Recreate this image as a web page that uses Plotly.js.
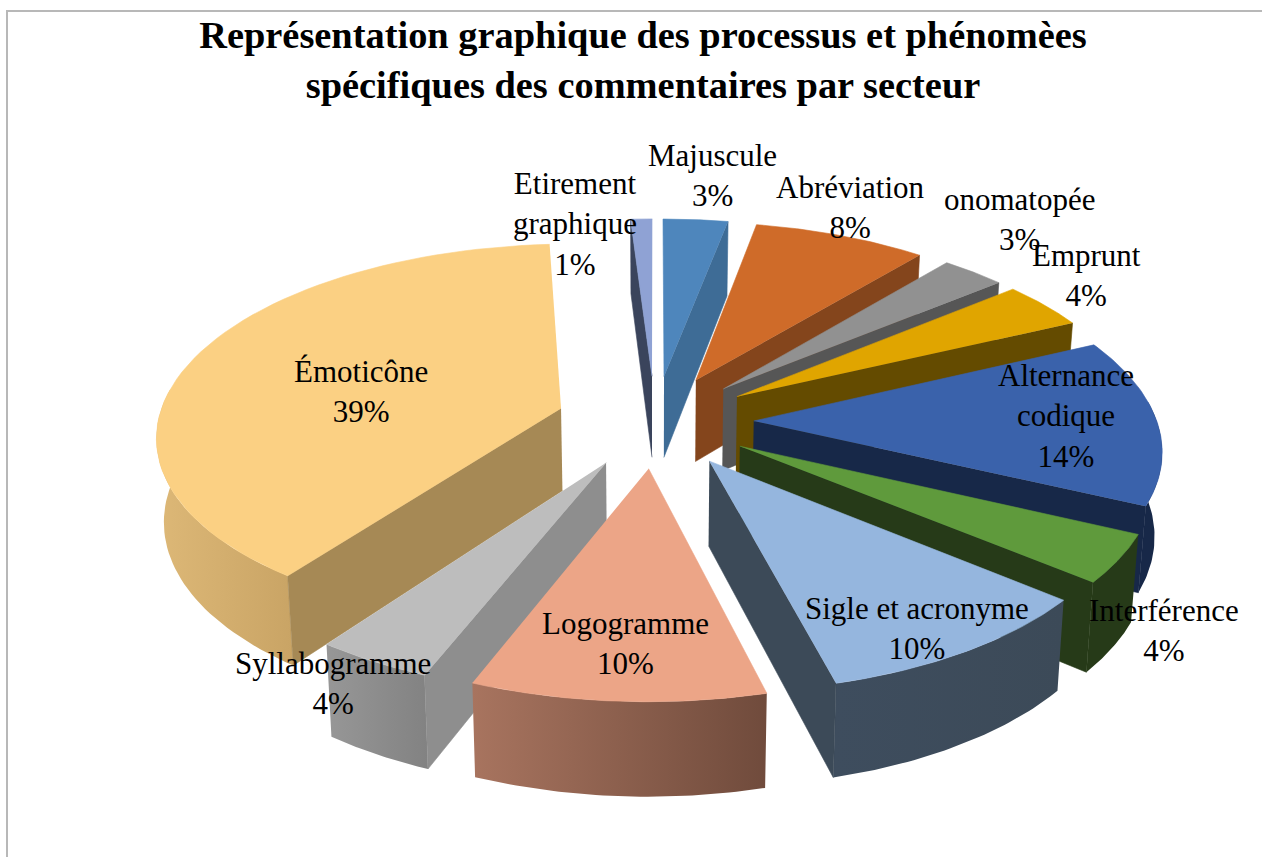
<!DOCTYPE html>
<html lang="fr">
<head>
<meta charset="utf-8">
<script src="https://cdn.plot.ly/plotly-3.0.1.min.js"></script>
<style>html,body{margin:0;padding:0;background:#fff;overflow:hidden}#chart{width:1262px;height:857px}</style>
</head>
<body>
<div id="chart"></div>
<script>
// ---- data (percent of commentaries) ----
const categories = ["Majuscule","Abréviation","onomatopée","Emprunt","Alternance<br>codique","Interférence","Sigle et acronyme","Logogramme","Syllabogramme","Émoticône","Etirement<br>graphique"];
const values = [3,8,3,4,14,4,10,10,4,39,1];

// ---- styles per slice ----
const topColors  = ["#4E86BC","#CF6B29","#919191","#E0A500","#3A62AB","#5F9A3C","#95B6DE","#ECA587","#BDBDBD","#FBD083","#8FA2D4"];
const cutColors  = ["#3E6C96","#84451C","#565656","#644B00","#172848","#263A18","#3C4A58","#6E4A3A","#8E8E8E","#A68955","#3A445C"];
const wallLeft   = ["#3E6C96","#84451C","#565656","#644B00","#172848","#263A18","#3E4D5E","#A8745F","#979797","#DDB877","#3A445C"];
const wallRight  = ["#3E6C96","#84451C","#565656","#644B00","#172848","#263A18","#3C4A58","#704B3C","#828282","#C9A465","#3A445C"];
const drawOrder  = [9,10,0,1,2,3,4,5,8,6,7];

// ---- label placement ----
const labelX = [712,850,1020,1086,1066,1164,917,625,333,361,575];
const labelY = [175,207,219,275,416,630,628,643,683,391,224];

// ---- projection of the tilted, exploded pie onto the page ----
const CX = 655, CY = 421, RX = 403, RY = 188.8, PERSP = 0.131, EXPLODE = 0.245, DEPTH = 83, BOTTOM = 0.985;

function project(u, v, lower) {
  const s = 1 / (1 - PERSP * v);
  let x = RX * u * s, y = RY * v * s;
  if (lower) { x *= BOTTOM; y = y * BOTTOM + DEPTH * s; }
  return [CX + x, CY + y];
}
function rimPoint(deg, midDeg, r, lower) {
  const a = deg * Math.PI / 180, m = midDeg * Math.PI / 180;
  return project(r * Math.sin(a) + EXPLODE * Math.sin(m), -r * Math.cos(a) - EXPLODE * Math.cos(m), lower);
}
function poly(points, color, grad) {
  const t = {
    type: "scatter", mode: "lines", hoverinfo: "skip", showlegend: false,
    x: points.map(p => p[0]), y: points.map(p => p[1]),
    fill: "toself", line: {width: 0.6, color: color}, fillcolor: color
  };
  if (grad) {
    t.fillgradient = {type: "horizontal", colorscale: [[0, grad[0]], [1, grad[1]]]};
    t.line = {width: 0};
  }
  return t;
}

const total = values.reduce((a, b) => a + b, 0);
const starts = [], ends = [];
let running = 0;
values.forEach(v => {
  starts.push(running / total * 360);
  running += v;
  ends.push(running / total * 360);
});

const traces = [];
drawOrder.forEach(i => {
  const a0 = starts[i], a1 = ends[i], mid = (a0 + a1) / 2;
  // outer wall: only the part turned toward the viewer
  const w0 = Math.max(a0, 84), w1 = Math.min(a1, 276);
  if (w1 > w0) {
    const up = [], low = [];
    for (let k = 0; k <= 40; k++) {
      const d = w0 + (w1 - w0) * k / 40;
      up.push(rimPoint(d, mid, 1, false));
      low.push(rimPoint(d, mid, 1, true));
    }
    traces.push(poly(up.concat(low.reverse()), wallLeft[i], [wallLeft[i], wallRight[i]]));
  }
  // cut faces
  const tipTop = rimPoint(0, mid, 0, false), tipLow = rimPoint(0, mid, 0, true);
  if (Math.sin(a0 * Math.PI / 180) < -1e-6) {
    traces.push(poly([tipTop, rimPoint(a0, mid, 1, false), rimPoint(a0, mid, 1, true), tipLow], cutColors[i]));
  }
  if (Math.sin(a1 * Math.PI / 180) > 1e-6) {
    traces.push(poly([tipTop, rimPoint(a1, mid, 1, false), rimPoint(a1, mid, 1, true), tipLow], cutColors[i]));
  }
  // top face
  const pts = [tipTop];
  for (let k = 0; k <= 60; k++) pts.push(rimPoint(a0 + (a1 - a0) * k / 60, mid, 1, false));
  traces.push(poly(pts, topColors[i]));
});

const annotations = categories.map((c, i) => ({
  x: labelX[i], y: labelY[i], xref: "x", yref: "y",
  text: c + "<br>" + values[i] + "%", showarrow: false,
  xanchor: "center", yanchor: "middle", align: "center",
  font: {family: "'Liberation Serif', serif", size: 31, color: "#000"}
}));

const layout = {
  width: 1262, height: 857,
  margin: {l: 0, r: 0, t: 0, b: 0},
  paper_bgcolor: "#fff", plot_bgcolor: "#fff",
  showlegend: false, hovermode: false,
  title: {
    text: "Représentation graphique des processus et phénomèes<br>spécifiques des commentaires par secteur",
    x: 643 / 1262, xanchor: "center", y: 0.944, yanchor: "top",
    font: {family: "'Liberation Serif', serif", size: 38.4, color: "#000", weight: "bold"}
  },
  xaxis: {range: [0, 1262], visible: false, fixedrange: true},
  yaxis: {range: [857, 0], visible: false, fixedrange: true},
  annotations: annotations,
  shapes: [{
    type: "path", xref: "x", yref: "y",
    path: "M7,857 L7,11 L1262,11",
    line: {color: "#B8B8B8", width: 2}
  }]
};
Plotly.newPlot("chart", traces, layout, {displayModeBar: false, staticPlot: true});
</script>
</body>
</html>
